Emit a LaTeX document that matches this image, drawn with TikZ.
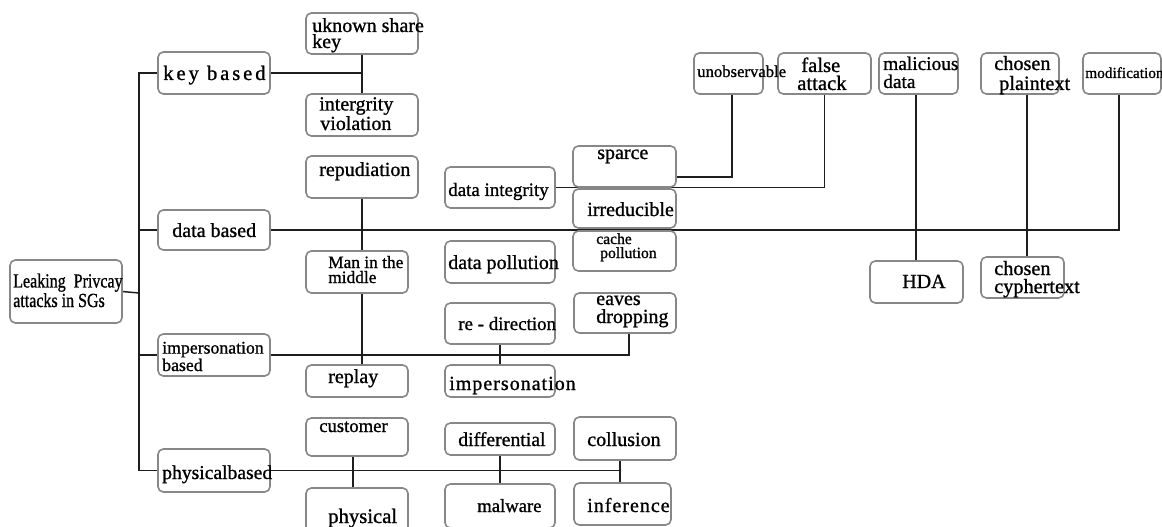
\documentclass[tikz,border=0pt]{standalone}
\usepackage{fontspec}
\setmainfont{Liberation Serif}[FakeBold=1]
\newfontfamily\widefont[LetterSpace=14,FakeBold=1]{Liberation Serif}
\newfontfamily\spacedfont[LetterSpace=5,FakeBold=1]{Liberation Serif}
\usetikzlibrary{backgrounds,calc}
\definecolor{boxline}{RGB}{135,135,135}
\definecolor{wirecol}{RGB}{30,30,30}

\newcommand\fs[1]{\fontsize{#1}{#1}\selectfont}

\tikzset{
  box/.style={draw=boxline, line width=1.2pt, rounded corners=4pt, fill=white,
              inner sep=0pt, outer sep=0pt},
  txt/.style={anchor=base west, inner sep=0pt, text=black},
  wire/.style={draw=wirecol, line width=1.1pt},
}
% box from corner (x1,y1) to (x2,y2), pixel units
\newcommand\bx[5]{\node[box, minimum width={(#4-#2)*0.75pt},
  minimum height={(#5-#3)*0.75pt}] (#1) at ({(#2+#4)/2},{(#3+#5)/2}) {};}
% one line of text, baseline-left at (x,y)
\newcommand\tx[5]{\node[txt] (#1) at (#2,#3) {#4#5};}
% two lines of text, last baseline-left at (x,y): name, x, y, size, line distance, line 1, line 2
\newcommand\tw[7]{\node[txt, align=left, font={\fontsize{#4}{#5}\selectfont}]
  (#1) at (#2,#3) {#6\\#7};}

\begin{document}
\begin{tikzpicture}[x=0.75pt, y=-0.75pt]
\useasboundingbox (0,0) rectangle (1162,527);

% ---- boxes ----
\bx{root}{10}{260}{122}{323}
\bx{kb}{158}{52}{270}{94}
\bx{db}{158}{210}{270}{250}
\bx{ib}{158}{334}{270}{376}
\bx{pb}{158}{449}{270}{492}
\bx{usk}{306}{13}{418}{54}
\bx{iv}{306}{94}{418}{136}
\bx{rep}{306}{156}{418}{198}
\bx{mim}{306}{251}{408}{293}
\bx{rp}{306}{365}{408}{397}
\bx{cu}{306}{418}{408}{456}
\bx{ph}{306}{488}{408}{540}
\bx{di}{445}{167}{555}{208}
\bx{dp}{445}{241}{555}{283}
\bx{rd}{445}{303}{555}{344}
\bx{imp}{445}{365}{555}{397}
\bx{dif}{445}{423}{555}{455}
\bx{mal}{445}{484}{555}{528}
\bx{sp}{573}{146}{676}{187}
\bx{irr}{573}{189}{676}{228}
\bx{cpo}{573}{231}{676}{271}
\bx{ed}{574}{293}{676}{333}
\bx{col}{574}{417}{676}{460}
\bx{inf}{574}{483}{671}{525}
\bx{un}{694}{53}{763}{94}
\bx{fa}{778}{53}{871}{94}
\bx{md}{879}{53}{958}{94}
\bx{cpl}{981}{53}{1059}{94}
\bx{mod}{1083}{53}{1161}{94}
\bx{hda}{870}{261}{963}{303}
\bx{cc}{981}{257}{1064}{298}

% ---- labels ----
\tw{root-t}{13}{307}{15}{12.75}{\scalebox{0.8}[1]{Leaking\ \ Privcay}}{\scalebox{0.8}[1]{attacks in SGs}}
\tx{kb-t}{163}{80}{\widefont\fs{15.5}}{key based}
\tx{db-t}{172}{237}{\fs{15}}{data based}
\tw{ib-t}{162}{371}{13.3}{12}{impersonation}{based}
\tx{pb-t}{162}{479}{\fs{14.7}}{physicalbased}
\tw{usk-t}{312}{48}{15}{12}{uknown share}{key}
\tw{iv-t}{319}{130}{15}{12.75}{intergrity}{\hspace{0.75pt}violation}
\tx{rep-t}{319}{176}{\fs{15}}{repudiation}
\tw{mim-t}{328}{283}{13}{11.25}{Man in the}{middle}
\tx{rp-t}{328}{383}{\fs{15}}{replay}
\tx{cu-t}{319}{432}{\fs{14}}{customer}
\tx{ph-t}{328}{523}{\fs{15.5}}{physical}
\tx{di-t}{448}{196}{\fs{14.2}}{data integrity}
\tx{dp-t}{448}{269}{\fs{15}}{data pollution}
\tx{rd-t}{458}{330}{\fs{14.2}}{re - direction}
\tx{imp-t}{449}{390}{\spacedfont\fs{15}}{impersonation}
\tx{dif-t}{458}{446}{\fs{14.8}}{differential}
\tx{mal-t}{477}{512}{\fs{14}}{malware}
\tx{sp-t}{597}{159}{\fs{15}}{sparce}
\tx{irr-t}{587}{216}{\fs{15}}{irreducible}
\tw{cpo-t}{596}{258}{11.7}{10.5}{cache}{\hspace{3pt}pollution}
\tw{ed-t}{596}{323}{15}{13.5}{eaves}{dropping}
\tx{col-t}{587}{446}{\fs{15}}{collusion}
\tx{inf-t}{587}{512}{\spacedfont\fs{15}}{inference}
\tx{un-t}{697}{77}{\fs{12.5}}{unobservable}
\tw{fa-t}{797}{90}{15.5}{13.5}{\hspace{3pt}false}{attack}
\tw{md-t}{883}{88}{14.5}{13.5}{malicious}{data}
\tw{cpl-t}{994}{90}{15.2}{15}{chosen}{\hspace{3.75pt}plaintext}
\tx{mod-t}{1085}{78}{\fs{11.5}}{modification}
\tx{hda-t}{902}{288}{\fs{15}}{HDA}
\tw{cc-t}{994}{293}{15.2}{13.5}{chosen}{cyphertext}

% ---- connectors (behind the boxes) ----
\coordinate (trunk) at (139,293);
\begin{pgfonlayer}{background}
  % trunk and the four categories
  \draw[wire] (kb.west) -| (trunk) |- (pb.west);
  \draw[wire] (root.east) -- (trunk);
  \draw[wire] (db.west) -- (db.west -| trunk);
  \draw[wire] (ib.west) -- (ib.west -| trunk);
  % key based
  \draw[wire] (kb.east) -- (kb.east -| usk.south);
  \draw[wire] (usk.south) -- (iv.north);
  % data based
  \draw[wire] (db.east) -| ($(mod.south)+(-3,0)$);
  \draw[wire] (rep.south) -- (rep.south |- rp.north);
  \draw[wire] (di.east) -| (fa.south);
  \draw[wire] ($(sp.east)+(0,10.5)$) -| ($(un.south)+(3.5,0)$);
  \draw[wire] ($(md.south)+(-2.5,0)$) -- ($(md.south |- hda.north)+(-2.5,0)$);
  \draw[wire] ($(cpl.south)+(7,0)$) -- ($(cpl.south |- cc.north)+(7,0)$);
  % impersonation based
  \draw[wire] (ib.east) -| ($(ed.south)+(4,0)$);
  \draw[wire] (rd.south) -- (imp.north);
  % physical based
  \draw[wire] (pb.east) -- ($(pb.east -| col.south)+(-5,0)$);
  \draw[wire] ($(col.south)+(-5,0)$) -- ($(col.south |- inf.north)+(-5,0)$);
  \draw[wire] ($(cu.south)+(-4,0)$) -- ($(cu.south |- ph.north)+(-4,0)$);
  \draw[wire] (dif.south) -- (mal.north);
\end{pgfonlayer}
\end{tikzpicture}
\end{document}
